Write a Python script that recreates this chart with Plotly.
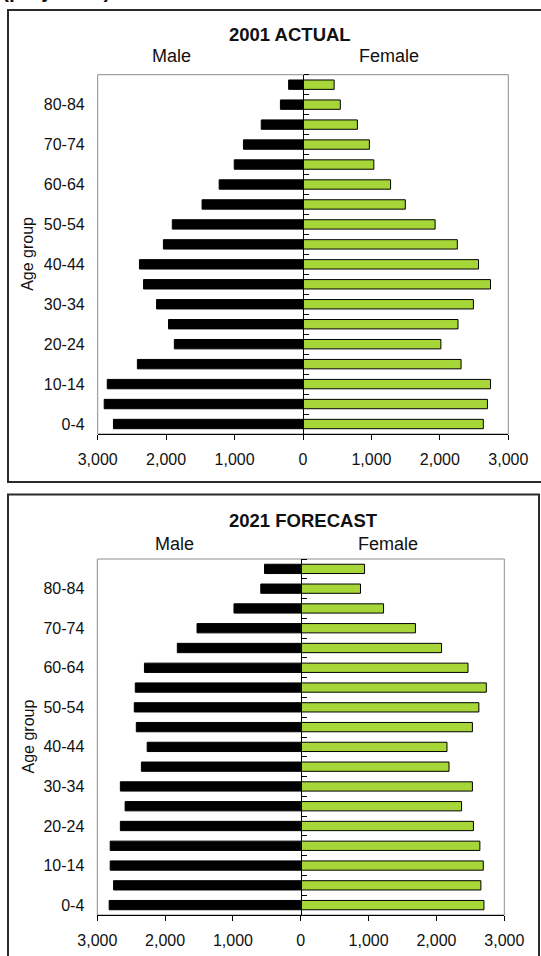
import plotly.graph_objects as go

# Five-year age bands, youngest first
ages = ["0-4", "5-9", "10-14", "15-19", "20-24", "25-29", "30-34", "35-39",
        "40-44", "45-49", "50-54", "55-59", "60-64", "65-69", "70-74",
        "75-79", "80-84", "85+"]

# 2001 actual population by sex
male_2001 = [2770, 2905, 2860, 2420, 1880, 1965, 2140, 2330, 2390, 2040,
             1910, 1475, 1225, 1005, 870, 610, 330, 210]
female_2001 = [2635, 2695, 2740, 2310, 2015, 2265, 2490, 2740, 2565, 2255,
               1930, 1495, 1280, 1035, 970, 795, 545, 455]

# 2021 forecast population by sex
male_2021 = [2825, 2760, 2810, 2810, 2660, 2590, 2660, 2350, 2265, 2425,
             2455, 2440, 2305, 1820, 1530, 985, 590, 535]
female_2021 = [2700, 2655, 2690, 2640, 2545, 2370, 2530, 2185, 2155, 2530,
               2625, 2735, 2465, 2075, 1690, 1220, 880, 940]

x_ticks = [-3000, -2000, -1000, 0, 1000, 2000, 3000]
x_ticktext = ["3,000", "2,000", "1,000", "0", "1,000", "2,000", "3,000"]
age_ticks = ages[0:17:2]

W, H = 541, 956
FONT = "Liberation Sans, Arial, sans-serif"
GREEN = "#a6d637"


def px(x):
    return x / W


def py(y):
    return 1 - y / H


fig = go.Figure()

panels = [
    # (male, female, xaxis, yaxis-left, yaxis-center)
    (male_2001, female_2001, "x", "y", "y2"),
    (male_2021, female_2021, "x2", "y3", "y4"),
]

for male, female, xa, ya, yc in panels:
    fig.add_trace(go.Bar(
        y=ages, x=[-v for v in male], orientation="h", xaxis=xa, yaxis=ya,
        marker=dict(color="#000000", line=dict(color="#000000", width=1)),
        width=0.47, showlegend=False, name="Male"))
    fig.add_trace(go.Bar(
        y=ages, x=female, orientation="h", xaxis=xa, yaxis=yc,
        marker=dict(color=GREEN, line=dict(color="#000000", width=1)),
        width=0.47, showlegend=False, name="Female"))

# Plot-area pixel boxes: (left, right, top, bottom)
top_box = (97.7, 508.3, 74.7, 434.0)
bot_box = (97.3, 504.3, 559.0, 915.0)

xcommon = dict(
    range=[-3000, 3000], tickvals=x_ticks, ticktext=x_ticktext,
    showline=True, linecolor="#000000", linewidth=1,
    ticks="outside", ticklen=5, tickcolor="#000000", tickwidth=1,
    showgrid=False, zeroline=False, fixedrange=True, automargin=False,
    tickfont=dict(family=FONT, size=16, color="#111111"),
    ticklabelstandoff=6,
)
ylabels = dict(
    type="category", categoryorder="array", categoryarray=ages,
    range=[-0.5, 17.5], tickvals=age_ticks, ticks="", showline=False,
    showgrid=False, zeroline=False, fixedrange=True, automargin=False,
    tickfont=dict(family=FONT, size=16, color="#111111"),
    ticklabelstandoff=12,
)
ycenter = dict(
    type="category", categoryorder="array", categoryarray=ages,
    range=[-0.5, 17.5], showticklabels=False, side="right",
    ticks="outside", ticklen=5, tickcolor="#000000", tickson="boundaries",
    showline=True, linecolor="#000000", linewidth=1,
    showgrid=False, zeroline=False, fixedrange=True, automargin=False,
)


def dom_x(b):
    return [px(b[0]), px(b[1])]


def dom_y(b):
    return [py(b[3]), py(b[2])]


fig.update_layout(
    width=W, height=H, autosize=False,
    margin=dict(l=0, r=0, t=0, b=0, pad=0, autoexpand=False),
    paper_bgcolor="#ffffff", plot_bgcolor="#ffffff",
    barmode="overlay",
    xaxis=dict(domain=dom_x(top_box), anchor="y", **xcommon),
    yaxis=dict(domain=dom_y(top_box), anchor="x", **ylabels),
    yaxis2=dict(overlaying="y", anchor="free",
                position=(px(top_box[0]) + px(top_box[1])) / 2, **ycenter),
    xaxis2=dict(domain=dom_x(bot_box), anchor="y3", **xcommon),
    yaxis3=dict(domain=dom_y(bot_box), anchor="x2", **ylabels),
    yaxis4=dict(overlaying="y3", anchor="free",
                position=(px(bot_box[0]) + px(bot_box[1])) / 2, **ycenter),
)

shapes = [
    # panel frames
    dict(type="rect", xref="paper", yref="paper",
         x0=px(8), x1=px(580), y0=py(482), y1=py(10),
         line=dict(color="#2b2b2b", width=2), fillcolor="rgba(0,0,0,0)"),
    dict(type="rect", xref="paper", yref="paper",
         x0=px(8), x1=px(539), y0=py(1000), y1=py(494.5),
         line=dict(color="#2b2b2b", width=2), fillcolor="rgba(0,0,0,0)"),
    # grey plot-area borders
    dict(type="rect", xref="x domain", yref="y domain", x0=0, x1=1, y0=0, y1=1,
         line=dict(color="#8c8c8c", width=1), layer="below"),
    dict(type="rect", xref="x2 domain", yref="y3 domain", x0=0, x1=1, y0=0, y1=1,
         line=dict(color="#8c8c8c", width=1), layer="below"),
]
fig.update_layout(shapes=shapes)


def text(s, x, y, size, bold=False, angle=0, anchor="center"):
    return dict(
        text=f"<b>{s}</b>" if bold else s, x=px(x), y=py(y),
        xref="paper", yref="paper", xanchor=anchor, yanchor="middle",
        showarrow=False, textangle=angle,
        font=dict(family=FONT, size=size, color="#111111"))


annotations = [
    text("(projected)", 0, -10, 21, bold=True, anchor="left"),
    text("2001 ACTUAL", 290, 34.5, 18.5, bold=True),
    text("Male", 171.5, 56, 18),
    text("Female", 389, 56, 18),
    text("Age group", 27.5, (top_box[2] + top_box[3]) / 2, 16, angle=-90),
    text("2021 FORECAST", 303.5, 520, 18.5, bold=True),
    text("Male", 174, 543.5, 18),
    text("Female", 388, 543.5, 18),
    text("Age group", 27.5, (bot_box[2] + bot_box[3]) / 2, 16, angle=-90),
]
fig.update_layout(annotations=annotations)

fig.write_html("out.html")
